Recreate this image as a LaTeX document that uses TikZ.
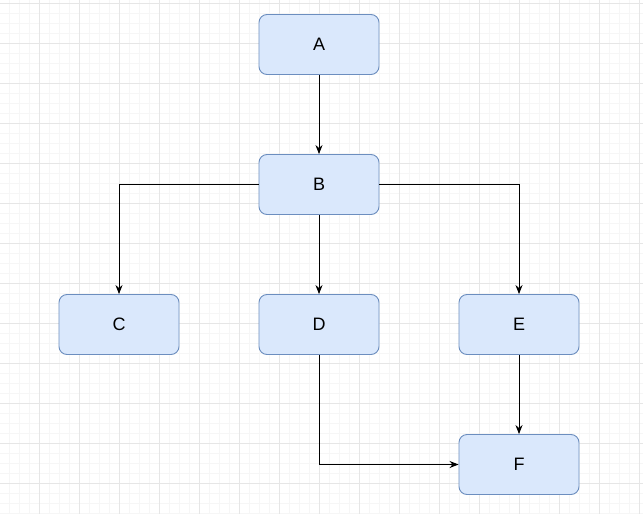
\documentclass[tikz,border=0pt]{standalone}
\usepackage{fontspec}
\setmainfont{Liberation Sans}
\usetikzlibrary{arrows.meta}
\definecolor{boxfill}{HTML}{DAE8FC}
\definecolor{boxdraw}{HTML}{6C8EBF}
\definecolor{gridminor}{HTML}{F6F6F6}
\definecolor{gridmajor}{HTML}{E6E6E6}
\tikzset{
  box/.style={draw=boxdraw, fill=boxfill, rounded corners=8pt, minimum width=120pt, minimum height=60pt, inner sep=0pt, line width=0.9pt, font=\fontsize{18}{21}\selectfont},
  conn/.style={draw=black, line width=0.9pt, -{Stealth[length=9pt,width=7pt]}}
}
\begin{document}
\begin{tikzpicture}[x=1pt,y=-1pt]
\useasboundingbox (0,0) rectangle (643,514);
\fill[white] (0,0) rectangle (643,514);
\foreach \i in {0,...,64} {
  \draw[gridminor, line width=0.8pt] ({\i*10-0.5},0) -- ({\i*10-0.5},514);
}
\foreach \j in {0,...,51} {
  \draw[gridminor, line width=0.8pt] (0,{\j*10+3.5}) -- (643,{\j*10+3.5});
}
\foreach \i in {0,...,16} {
  \draw[gridmajor, line width=0.8pt] ({\i*40-0.5},0) -- ({\i*40-0.5},514);
}
\foreach \j in {0,...,12} {
  \draw[gridmajor, line width=0.8pt] (0,{\j*40+3.5}) -- (643,{\j*40+3.5});
}
\node[box] (A) at (319,44.5) {A};
\node[box] (B) at (319,184.5) {B};
\node[box] (C) at (119,324.5) {C};
\node[box] (D) at (319,324.5) {D};
\node[box] (E) at (519,324.5) {E};
\node[box] (F) at (519,464.5) {F};
\draw[conn] (A) -- (B);
\draw[conn] (B) -- (D);
\draw[conn] (B.west) -| (C.north);
\draw[conn] (B.east) -| (E.north);
\draw[conn] (E) -- (F);
\draw[conn] (D.south) |- (F.west);
\end{tikzpicture}
\end{document}
